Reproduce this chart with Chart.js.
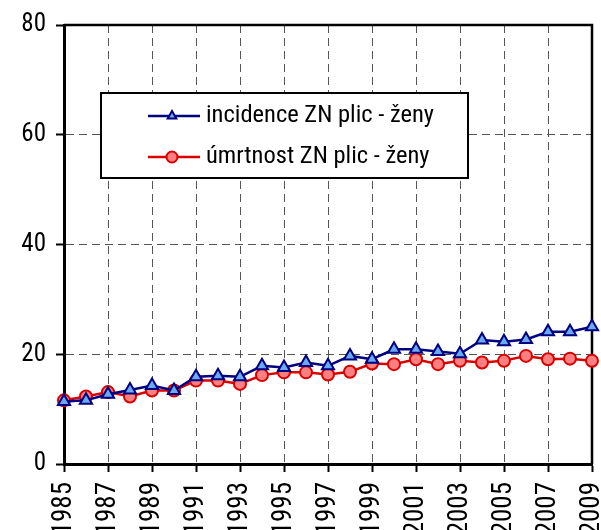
<!DOCTYPE html>
<html>
<head>
<meta charset="utf-8">
<script src="https://cdn.jsdelivr.net/npm/chart.js@4/dist/chart.umd.min.js"></script>
<style>
    html, body { margin: 0; padding: 0; background: #fff; }
    #wrap { width: 601px; height: 530px; }
</style>
</head>
<body>
<div id="wrap"><canvas id="chart" width="601" height="530"></canvas></div>
<script>
// ========================================
// データ
// ========================================

const years = [1985, 1986, 1987, 1988, 1989, 1990, 1991, 1992, 1993, 1994, 1995, 1996,
    1997, 1998, 1999, 2000, 2001, 2002, 2003, 2004, 2005, 2006, 2007, 2008, 2009];

// incidence ZN plic - ženy
const incidence = [11.4, 11.6, 12.7, 13.5, 14.3, 13.4, 15.9, 16.1, 15.9, 17.9, 17.6, 18.5,
    17.9, 19.7, 19.1, 20.9, 20.9, 20.5, 20.1, 22.6, 22.3, 22.7, 24.1, 24.1, 25.0];

// úmrtnost ZN plic - ženy
const mortality = [11.6, 12.3, 13.1, 12.3, 13.4, 13.4, 15.2, 15.2, 14.6, 16.2, 16.7, 16.7,
    16.3, 16.8, 18.3, 18.2, 19.1, 18.2, 18.8, 18.5, 18.8, 19.7, 19.1, 19.2, 18.8];

const seriesLabels = ['incidence ZN plic - ženy', 'úmrtnost ZN plic - ženy'];
const yTicks = [0, 20, 40, 60, 80];

const FONT = "'Roboto Condensed', 'Liberation Sans', sans-serif";

// ========================================
// プラグイン: 枠とレジェンド
// ========================================

const framePlugin = {
    id: 'frame',
    beforeDatasetsDraw(chart) {
        const { ctx, chartArea: a } = chart;
        ctx.save();
        ctx.strokeStyle = '#000';
        ctx.lineWidth = 2.5;
        ctx.beginPath();
        ctx.moveTo(a.left, a.top);
        ctx.lineTo(a.right, a.top);
        ctx.lineTo(a.right, a.bottom);
        ctx.stroke();
        ctx.restore();
    }
};

const boxLegendPlugin = {
    id: 'boxLegend',
    afterDraw(chart) {
        const { ctx, chartArea: a } = chart;
        const x = a.left + 37, y = a.top + 68, w = 367, h = 85;
        ctx.save();
        ctx.fillStyle = '#fff';
        ctx.fillRect(x, y, w, h);
        ctx.strokeStyle = '#000';
        ctx.lineWidth = 2;
        ctx.strokeRect(x, y, w, h);

        chart.data.datasets.forEach((ds, i) => {
            const cy = y + 23 + i * 41;
            ctx.strokeStyle = ds.borderColor;
            ctx.lineWidth = 2.5;
            ctx.beginPath();
            ctx.moveTo(x + 47, cy);
            ctx.lineTo(x + 99, cy);
            ctx.stroke();
            ctx.fillStyle = ds.pointBackgroundColor;
            ctx.strokeStyle = ds.pointBorderColor;
            ctx.lineWidth = ds.pointBorderWidth;
            Chart.helpers.drawPoint(ctx, {
                pointStyle: ds.pointStyle,
                radius: ds.pointStyle === 'triangle' ? 5 : 5.5,
                rotation: 0,
                borderWidth: ds.pointBorderWidth
            }, x + 71, cy);
            ctx.fillStyle = '#000';
            ctx.font = '24.5px ' + FONT;
            ctx.textBaseline = 'middle';
            ctx.fillText(ds.label, x + 105, cy);
        });
        ctx.restore();
    }
};

// ========================================
// チャート
// ========================================

const ctx = document.getElementById('chart').getContext('2d');

new Chart(ctx, {
    type: 'line',
    data: {
        datasets: [{
            label: seriesLabels[0],
            data: years.map((yr, i) => ({ x: yr, y: incidence[i] })),
            borderColor: '#000080',
            borderWidth: 2.5,
            pointStyle: 'triangle',
            pointRadius: 7,
            pointBackgroundColor: '#6aaaf0',
            pointBorderColor: '#000080',
            pointBorderWidth: 2,
            tension: 0,
            clip: false
        }, {
            label: seriesLabels[1],
            data: years.map((yr, i) => ({ x: yr, y: mortality[i] })),
            borderColor: '#d80000',
            borderWidth: 2.5,
            pointStyle: 'circle',
            pointRadius: 6,
            pointBackgroundColor: '#ff8080',
            pointBorderColor: '#d80000',
            pointBorderWidth: 2,
            tension: 0,
            clip: false
        }]
    },
    options: {
        responsive: false,
        animation: false,
        devicePixelRatio: 1,
        layout: {
            padding: { top: 22, right: 7, left: 0, bottom: 0 }
        },
        plugins: {
            legend: { display: false },
            tooltip: { enabled: false }
        },
        scales: {
            x: {
                type: 'linear',
                min: years[0],
                max: years[years.length - 1],
                ticks: {
                    stepSize: 2,
                    maxRotation: 90,
                    minRotation: 90,
                    autoSkip: false,
                    padding: 10,
                    color: '#000',
                    font: { family: FONT, size: 27 },
                    callback: function(value) {
                        return String(value);
                    }
                },
                grid: {
                    color: '#555',
                    lineWidth: 1,
                    tickLength: 8,
                    tickColor: '#000',
                    tickWidth: 2
                },
                border: {
                    color: '#000',
                    width: 3,
                    dash: [8, 5]
                },
                afterFit: function(scale) {
                    scale.height = 66;
                    scale.paddingRight = 0;
                    scale.paddingLeft = 0;
                }
            },
            y: {
                min: yTicks[0],
                max: yTicks[yTicks.length - 1],
                ticks: {
                    stepSize: 20,
                    padding: 10,
                    color: '#000',
                    font: { family: FONT, size: 25 }
                },
                grid: {
                    color: '#555',
                    lineWidth: 1,
                    tickLength: 8,
                    tickColor: '#000',
                    tickWidth: 2
                },
                border: {
                    color: '#000',
                    width: 3,
                    dash: [8, 5]
                },
                afterFit: function(scale) {
                    scale.width = 64;
                }
            }
        }
    },
    plugins: [framePlugin, boxLegendPlugin]
});
</script>
</body>
</html>
